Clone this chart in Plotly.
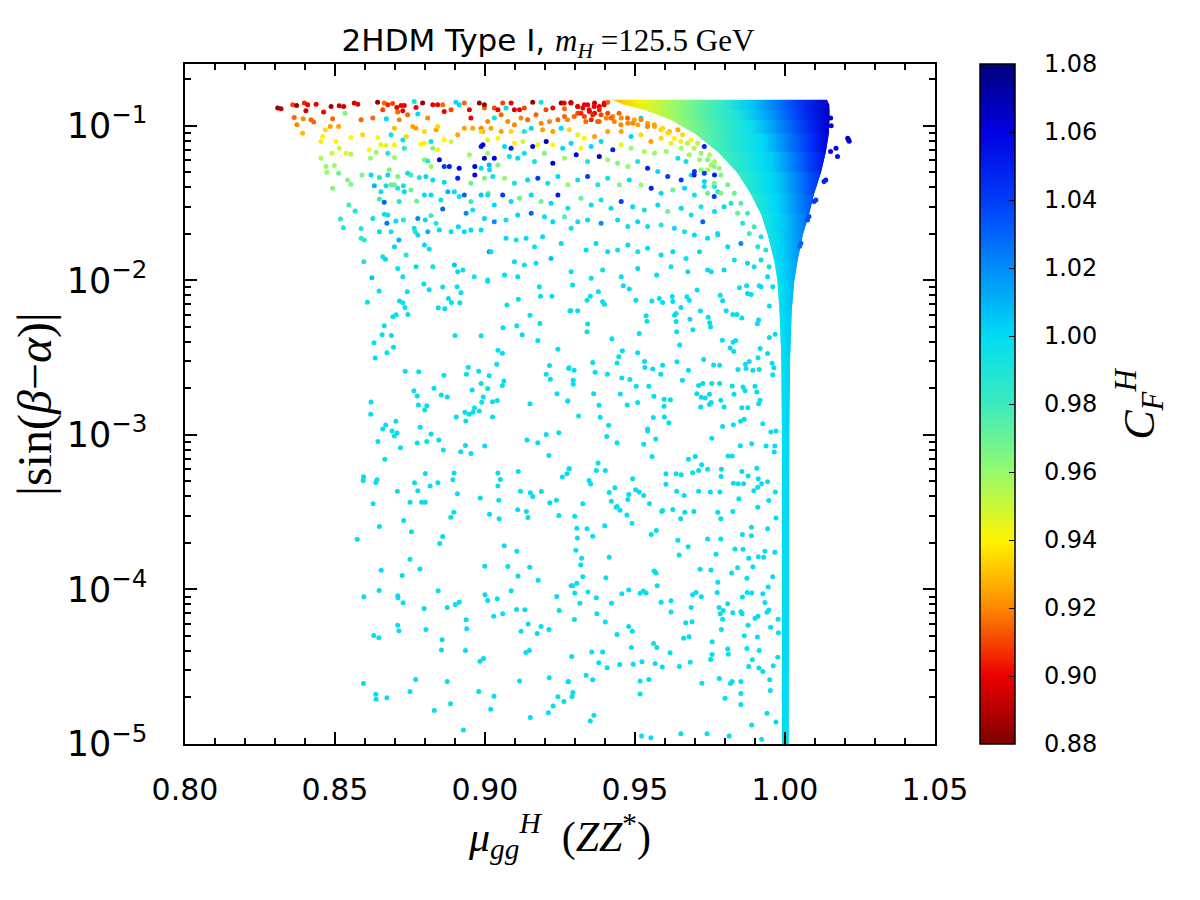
import plotly.graph_objects as go
from plotly.colors import sample_colorscale

# ── colour palette (0.88 .. 1.08) ───────────────────────────────────
CF_MIN, CF_MAX = 0.88, 1.08
cf_ticks = [0.88, 0.90, 0.92, 0.94, 0.96, 0.98, 1.00, 1.02, 1.04, 1.06, 1.08]
cf_colors = [
    'rgb(128,0,0)', 'rgb(235,0,0)', 'rgb(255,135,0)', 'rgb(255,245,0)',
    'rgb(150,250,110)', 'rgb(60,235,190)', 'rgb(0,220,245)', 'rgb(0,140,250)',
    'rgb(0,60,250)', 'rgb(0,0,225)', 'rgb(0,0,125)',
]
JET = [[(v - CF_MIN) / (CF_MAX - CF_MIN), c] for v, c in zip(cf_ticks, cf_colors)]

# ── scattered points: (mu_gg^H, log10|sin(b-a)|, C_F^H) ─────────────
upper_left = [
    (0.8309, -0.885, 0.885), (0.8320, -0.890, 0.89), (0.8359, -0.864, 0.91), (0.8372, -0.868, 0.885),
    (0.8398, -0.853, 0.905), (0.8409, -0.864, 0.90), (0.8403, -0.903, 0.895), (0.8437, -0.860, 0.90),
    (0.8364, -0.946, 0.915), (0.8373, -0.993, 0.92), (0.8394, -0.955, 0.92), (0.8420, -0.961, 0.915),
    (0.8429, -0.976, 0.915), (0.8392, -1.048, 0.93), (0.8462, -0.911, 0.90), (0.8487, -0.875, 0.885),
    (0.8492, -0.955, 0.915), (0.8484, -1.004, 0.925), (0.8468, -1.026, 0.935), (0.8459, -1.069, 0.94),
    (0.8453, -1.102, 0.945), (0.8512, -1.004, 0.925), (0.8514, -0.870, 0.895), (0.8529, -0.875, 0.895),
    (0.8533, -0.918, 0.965), (0.8503, -1.102, 0.94), (0.8514, -1.145, 0.95), (0.8490, -1.177, 0.95),
    (0.8453, -1.210, 0.955), (0.8470, -1.264, 0.96), (0.8473, -1.300, 0.96), (0.8498, -1.257, 0.96),
    (0.8512, -1.307, 0.97), (0.8492, -1.404, 0.965), (0.8537, -1.177, 0.945), (0.8553, -1.184, 0.955),
    (0.8553, -1.076, 0.94), (0.8564, -0.853, 0.895), (0.8576, -0.860, 0.90), (0.8587, -0.961, 0.915),
    (0.8592, -1.058, 0.935), (0.8590, -1.318, 0.965), (0.8542, -1.350, 0.965), (0.8553, -1.378, 0.965),
    (0.8546, -1.512, 0.98), (0.8567, -1.551, 0.99), (0.8518, -1.603, 0.985), (0.8528, -1.659, 0.99),
    (0.8587, -1.664, 0.99), (0.8587, -1.728, 0.985), (0.8598, -1.739, 0.985), (0.8596, -1.880, 0.99),
    (0.8623, -1.983, 1.005), (0.8614, -1.155, 0.94), (0.8618, -1.210, 0.96), (0.8620, -1.318, 1.00),
    (0.8626, -0.950, 0.915), (0.8642, -0.847, 0.885), (0.8659, -0.896, 0.91), (0.8664, -0.853, 0.915),
    (0.8676, -0.864, 0.905), (0.8671, -0.955, 1.00), (0.8692, -0.855, 0.91), (0.8706, -0.881, 0.90),
    (0.8720, -0.868, 0.90), (0.8731, -0.868, 0.90), (0.8709, -0.911, 0.915), (0.8726, -0.903, 0.90),
    (0.8714, -0.961, 0.92), (0.8742, -0.929, 0.915), (0.8764, -0.842, 0.995), (0.8770, -0.881, 0.90),
    (0.8792, -0.853, 0.885), (0.8776, -0.924, 1.00), (0.8809, -0.950, 0.92), (0.8826, -0.864, 0.90),
    (0.8842, -0.864, 0.90), (0.8859, -0.864, 0.915), (0.8864, -0.907, 0.90), (0.8887, -0.896, 0.91),
    (0.8903, -0.847, 1.00), (0.8914, -0.864, 1.00), (0.8931, -0.853, 0.915), (0.8948, -0.896, 0.90),
    (0.8953, -0.950, 0.90), (0.8981, -0.853, 0.885), (0.8998, -0.885, 0.915), (0.8698, -1.015, 0.93),
    (0.8687, -1.058, 0.995), (0.8642, -1.076, 0.94), (0.8653, -1.123, 0.945), (0.8670, -1.127, 0.945),
    (0.8698, -1.123, 0.94), (0.8737, -1.069, 0.935), (0.8726, -1.091, 0.995), (0.8731, -1.145, 0.985),
    (0.8676, -1.177, 0.99), (0.8637, -1.171, 0.96), (0.8698, -1.205, 0.96), (0.8759, -1.004, 0.925),
    (0.8770, -1.015, 0.925), (0.8798, -1.037, 0.935), (0.8787, -1.119, 0.94), (0.8798, -1.112, 0.94),
    (0.8820, -1.102, 0.995), (0.8837, -1.026, 0.925), (0.8842, -1.004, 0.935), (0.8826, -1.145, 0.965),
    (0.8842, -1.155, 0.94), (0.8864, -1.091, 0.94), (0.8887, -1.102, 0.95), (0.8909, -1.058, 0.925),
    (0.8931, -1.015, 0.925), (0.8959, -1.015, 0.925), (0.8987, -1.015, 0.92), (0.8992, -1.037, 0.925),
    (0.8987, -1.134, 1.05), (0.8948, -1.188, 0.96), (0.8798, -1.220, 0.965), (0.8809, -1.227, 0.99),
    (0.8848, -1.220, 1.06), (0.8864, -1.264, 1.04), (0.8881, -1.264, 1.05), (0.8914, -1.274, 1.06),
    (0.8966, -1.264, 1.06), (0.8998, -1.210, 1.07), (0.8987, -1.274, 1.00), (0.9014, -1.253, 1.01),
    (0.8820, -1.264, 0.96), (0.8909, -1.339, 1.05), (0.8966, -1.318, 1.06), (0.8953, -1.372, 0.97),
    (0.8987, -1.447, 1.005), (0.9011, -1.436, 0.97), (0.8803, -1.328, 1.00), (0.8826, -1.350, 1.00),
    (0.8864, -1.365, 1.00), (0.8876, -1.426, 1.01), (0.8898, -1.426, 1.00), (0.8931, -1.447, 1.03),
    (0.8914, -1.458, 0.995), (0.8853, -1.480, 0.995), (0.8859, -1.538, 1.03), (0.8820, -1.447, 1.00),
    (0.8798, -1.447, 1.00), (0.8772, -1.486, 0.97), (0.8781, -1.335, 0.99), (0.8753, -1.318, 0.98),
    (0.8742, -1.307, 0.995), (0.8709, -1.328, 0.965), (0.8681, -1.285, 0.965), (0.8676, -1.318, 1.00),
    (0.8648, -1.335, 0.99), (0.8698, -1.382, 0.97), (0.8687, -1.382, 0.97), (0.8709, -1.404, 0.99),
    (0.8728, -1.387, 0.995), (0.8670, -1.387, 0.995), (0.8631, -1.387, 1.01), (0.8653, -1.426, 0.995),
    (0.8731, -1.426, 1.00), (0.8753, -1.415, 0.97), (0.8714, -1.490, 0.99), (0.8664, -1.495, 1.03),
    (0.8648, -1.473, 0.98), (0.8676, -1.577, 0.995), (0.8664, -1.573, 0.995), (0.8673, -1.631, 1.025),
    (0.8703, -1.616, 1.00), (0.8728, -1.609, 0.99), (0.8626, -1.599, 0.995), (0.8648, -1.685, 1.00),
    (0.8687, -1.685, 0.995), (0.8713, -1.739, 1.01), (0.8776, -1.599, 1.02), (0.8801, -1.609, 1.00),
    (0.8820, -1.581, 0.98), (0.8837, -1.631, 0.99), (0.8764, -1.663, 0.995), (0.8767, -1.685, 0.99),
    (0.8776, -1.707, 1.00), (0.8809, -1.685, 1.01), (0.8848, -1.674, 1.00), (0.8887, -1.685, 1.00),
    (0.8911, -1.653, 1.00), (0.8931, -1.685, 1.00), (0.8953, -1.674, 1.00), (0.8987, -1.674, 1.00),
    (0.8937, -1.566, 1.02), (0.8959, -1.544, 0.995), (0.8953, -1.490, 0.98), (0.8798, -1.771, 1.00),
    (0.8814, -1.797, 0.995), (0.8737, -1.836, 0.99), (0.8698, -1.782, 1.00), (0.8659, -1.847, 0.995),
    (0.8668, -1.864, 1.00), (0.8709, -1.923, 0.995), (0.8726, -1.977, 0.995), (0.8770, -1.912, 1.00),
    (0.8826, -1.912, 0.995), (0.8898, -1.901, 1.005), (0.8909, -1.944, 1.00), (0.8926, -1.933, 0.995),
    (0.8964, -1.977, 0.995), (0.9009, -1.998, 1.00), (0.9014, -1.815, 1.02),
]

upper_mid = [
    (0.8998, -0.864, 0.885), (0.9031, -0.885, 0.91), (0.9043, -0.896, 0.90), (0.9059, -0.853, 0.91),
    (0.9070, -0.885, 1.00), (0.9087, -0.853, 0.90), (0.9098, -0.896, 0.895), (0.9115, -0.896, 0.90),
    (0.9131, -0.885, 0.91), (0.9159, -0.847, 0.885), (0.9187, -0.847, 0.995), (0.9203, -0.896, 0.91),
    (0.9226, -0.885, 0.90), (0.9254, -0.853, 0.885), (0.9265, -0.890, 0.915), (0.9287, -0.853, 0.895),
    (0.9309, -0.875, 0.905), (0.9326, -0.885, 0.90), (0.9342, -0.864, 0.90), (0.9365, -0.853, 0.895),
    (0.9381, -0.875, 0.90), (0.9398, -0.853, 0.90), (0.9409, -0.847, 0.915), (0.9348, -0.907, 0.90),
    (0.9365, -0.918, 0.90), (0.9387, -0.929, 0.91), (0.9331, -0.939, 0.91), (0.9309, -0.918, 0.91),
    (0.9354, -0.961, 0.905), (0.9381, -0.972, 0.915), (0.9404, -0.950, 0.92), (0.9426, -0.939, 0.92),
    (0.9431, -0.972, 0.92), (0.9454, -0.950, 0.92), (0.9476, -0.983, 0.92), (0.9498, -0.961, 0.925),
    (0.9520, -0.950, 1.00), (0.9509, -0.993, 0.925), (0.9542, -0.983, 0.925), (0.9565, -1.004, 0.925),
    (0.9593, -1.015, 0.935), (0.9615, -1.037, 0.93), (0.9643, -1.026, 0.925), (0.9659, -1.058, 0.935),
    (0.9687, -1.091, 0.94), (0.9709, -1.112, 0.955), (0.9731, -1.134, 1.05), (0.9748, -1.188, 0.955),
    (0.9765, -1.231, 0.955), (0.9781, -1.274, 0.96), (0.9265, -0.939, 0.915), (0.9243, -0.961, 0.915),
    (0.9215, -0.972, 0.92), (0.9187, -0.983, 0.92), (0.9170, -0.929, 0.915), (0.9142, -0.961, 0.915),
    (0.9120, -0.950, 0.92), (0.9098, -0.993, 0.92), (0.9076, -0.972, 0.92), (0.9054, -0.929, 0.915),
    (0.9031, -0.950, 0.995), (0.9009, -0.972, 0.92), (0.8987, -1.037, 0.935), (0.9020, -1.015, 0.925),
    (0.9054, -1.037, 0.925), (0.9087, -1.037, 0.935), (0.9131, -1.037, 0.99), (0.9154, -1.015, 1.00),
    (0.9192, -1.026, 0.925), (0.9226, -1.037, 0.925), (0.9254, -1.015, 1.00), (0.9281, -1.026, 0.935),
    (0.9309, -1.058, 0.945), (0.9331, -1.080, 0.94), (0.9365, -1.069, 0.925), (0.9409, -1.037, 0.925),
    (0.9454, -1.037, 0.925), (0.9487, -1.069, 1.00), (0.9520, -1.058, 0.935), (0.9553, -1.102, 0.925),
    (0.9587, -1.080, 0.935), (0.9620, -1.112, 0.945), (0.9654, -1.145, 0.955), (0.9681, -1.188, 0.96),
    (0.9715, -1.220, 0.96), (0.9742, -1.285, 0.955), (0.9765, -1.318, 1.05), (0.8993, -1.123, 1.06),
    (0.9009, -1.091, 0.945), (0.9043, -1.080, 0.94), (0.9065, -1.134, 1.00), (0.9087, -1.145, 1.05),
    (0.9098, -1.112, 0.94), (0.9126, -1.102, 0.95), (0.9159, -1.134, 1.06), (0.9176, -1.123, 0.945),
    (0.9204, -1.102, 1.07), (0.9226, -1.123, 0.94), (0.9259, -1.145, 1.00), (0.9287, -1.112, 1.00),
    (0.9320, -1.145, 0.94), (0.9354, -1.134, 1.00), (0.9387, -1.102, 1.00), (0.9426, -1.155, 1.05),
    (0.9454, -1.123, 0.945), (0.9487, -1.145, 0.96), (0.9531, -1.166, 0.955), (0.9565, -1.177, 0.96),
    (0.9604, -1.166, 0.96), (0.9643, -1.210, 0.995), (0.9670, -1.231, 0.995), (0.9698, -1.296, 1.04),
    (0.9720, -1.285, 0.96), (0.9754, -1.253, 0.96), (0.9009, -1.177, 0.96), (0.9031, -1.210, 1.06),
    (0.9043, -1.253, 0.965), (0.9081, -1.199, 0.995), (0.9109, -1.210, 1.00), (0.9131, -1.177, 0.995),
    (0.9165, -1.231, 0.995), (0.9198, -1.177, 0.965), (0.9226, -1.242, 1.06), (0.9265, -1.210, 0.96),
    (0.9304, -1.188, 1.06), (0.9342, -1.231, 0.99), (0.9381, -1.199, 1.07), (0.9409, -1.220, 0.96),
    (0.9442, -1.242, 0.965), (0.9476, -1.264, 0.96), (0.9509, -1.231, 0.99), (0.9542, -1.274, 1.05),
    (0.9576, -1.296, 1.00), (0.9609, -1.328, 1.04), (0.9654, -1.350, 1.04), (0.9687, -1.318, 0.99),
    (0.9731, -1.361, 1.00), (0.9765, -1.393, 0.99), (0.9015, -1.285, 1.00), (0.8998, -1.339, 0.965),
    (0.9026, -1.328, 0.995), (0.9065, -1.339, 0.96), (0.9098, -1.372, 0.995), (0.9142, -1.350, 1.00),
    (0.9176, -1.339, 1.04), (0.9209, -1.372, 0.995), (0.9243, -1.328, 1.00), (0.9276, -1.382, 0.96),
    (0.9309, -1.350, 0.995), (0.9342, -1.328, 1.04), (0.9376, -1.382, 0.99), (0.9409, -1.339, 0.995),
    (0.9448, -1.382, 0.965), (0.9481, -1.350, 1.00), (0.9520, -1.382, 0.96), (0.9554, -1.404, 1.05),
    (0.9587, -1.436, 1.00), (0.9626, -1.415, 0.97), (0.9665, -1.404, 1.00), (0.9698, -1.447, 0.995),
    (0.9742, -1.436, 0.97), (0.9776, -1.426, 0.99), (0.9009, -1.447, 0.995), (0.9031, -1.512, 1.00),
    (0.9059, -1.447, 1.04), (0.9087, -1.490, 1.00), (0.9115, -1.469, 0.97), (0.9154, -1.447, 1.00),
    (0.9187, -1.490, 0.97), (0.9220, -1.501, 1.00), (0.9243, -1.447, 1.05), (0.9276, -1.534, 0.995),
    (0.9320, -1.469, 0.97), (0.9354, -1.512, 1.00), (0.9387, -1.480, 0.995), (0.9420, -1.534, 1.00),
    (0.9454, -1.490, 1.04), (0.9492, -1.523, 1.00), (0.9531, -1.544, 0.995), (0.9576, -1.512, 1.00),
    (0.9609, -1.555, 0.97), (0.9654, -1.534, 1.00), (0.9687, -1.577, 0.995), (0.9726, -1.620, 1.03),
    (0.9765, -1.555, 1.00), (0.8998, -1.599, 1.00), (0.9031, -1.620, 1.02), (0.9070, -1.609, 0.995),
    (0.9109, -1.577, 1.00), (0.9154, -1.566, 1.03), (0.9198, -1.588, 0.995), (0.9226, -1.620, 1.00),
    (0.9265, -1.588, 0.975), (0.9309, -1.620, 0.995), (0.9342, -1.609, 1.00), (0.9387, -1.631, 1.02),
    (0.9442, -1.609, 1.00), (0.9476, -1.652, 0.995), (0.9509, -1.620, 1.00), (0.9542, -1.652, 0.995),
    (0.9587, -1.642, 0.99), (0.9631, -1.663, 1.00), (0.9665, -1.685, 0.995), (0.9698, -1.707, 1.00),
    (0.9742, -1.728, 1.00), (0.9776, -1.707, 0.995), (0.9020, -1.815, 1.00), (0.9070, -1.728, 1.00),
    (0.9104, -1.739, 0.995), (0.9137, -1.728, 1.00), (0.9165, -1.782, 0.995), (0.9192, -1.717, 1.00),
    (0.9220, -1.858, 1.005), (0.9254, -1.761, 1.00), (0.9287, -1.663, 0.995), (0.9337, -1.804, 1.00),
    (0.9370, -1.761, 1.00), (0.9409, -1.815, 1.00), (0.9442, -1.804, 0.995), (0.9476, -1.771, 1.00),
    (0.9509, -1.815, 0.995), (0.9542, -1.793, 1.00), (0.9587, -1.836, 1.00), (0.9626, -1.815, 1.00),
    (0.9670, -1.858, 0.995), (0.9715, -1.815, 1.00), (0.9754, -1.944, 1.00), (0.9098, -1.880, 1.00),
    (0.9131, -1.901, 0.995), (0.9170, -1.890, 1.00), (0.9109, -1.977, 1.00), (0.9065, -1.966, 1.00),
    (0.9287, -1.944, 1.00), (0.9354, -1.987, 1.00), (0.9392, -1.933, 0.995), (0.9454, -1.977, 1.00),
    (0.9509, -1.923, 1.00), (0.9572, -1.966, 1.00), (0.9620, -1.912, 0.995), (0.9676, -1.944, 1.00),
    (0.9742, -1.933, 1.00),
]

upper_right = [
    (0.9264, -0.853, 0.90), (0.9286, -0.849, 0.895), (0.9309, -0.875, 0.90), (0.9331, -0.864, 0.90),
    (0.9347, -0.896, 0.90), (0.9364, -0.875, 0.90), (0.9381, -0.896, 0.905), (0.9397, -0.864, 0.90),
    (0.9409, -0.918, 0.91), (0.9359, -0.929, 0.905), (0.9320, -0.918, 0.905), (0.9297, -0.939, 0.915),
    (0.9275, -0.961, 0.92), (0.9336, -0.972, 0.915), (0.9375, -0.972, 0.915), (0.9420, -0.950, 0.915),
    (0.9447, -0.918, 0.915), (0.9475, -0.950, 0.915), (0.9453, -0.993, 0.92), (0.9492, -0.983, 0.92),
    (0.9520, -0.961, 0.92), (0.9542, -1.004, 0.92), (0.9564, -0.993, 0.925), (0.9586, -1.026, 0.935),
    (0.9609, -1.047, 0.935), (0.9631, -1.080, 0.94), (0.9653, -1.101, 0.945), (0.9675, -1.112, 0.955),
    (0.9697, -1.145, 0.955), (0.9720, -1.177, 0.96), (0.9742, -1.220, 0.965), (0.9764, -1.264, 0.965),
    (0.9786, -1.318, 0.965), (0.9809, -1.382, 0.97), (0.9831, -1.436, 0.97), (0.9853, -1.501, 0.975),
    (0.9875, -1.566, 0.98), (0.9897, -1.653, 0.98), (0.9920, -1.717, 0.99), (0.9936, -1.804, 0.99),
    (0.9947, -1.912, 0.995), (0.9959, -2.042, 1.00), (0.9697, -1.318, 1.05), (0.9731, -1.307, 1.04),
    (0.9764, -1.372, 0.965), (0.9786, -1.436, 0.965), (0.9820, -1.501, 0.99), (0.9842, -1.566, 0.97),
    (0.9859, -1.631, 0.99), (0.9881, -1.696, 0.98), (0.9909, -1.782, 0.99), (0.9920, -1.869, 0.995),
    (0.9942, -1.977, 1.00), (0.9897, -1.912, 0.995), (0.9853, -1.761, 1.02), (0.9875, -1.890, 1.00),
    (0.9731, -1.393, 0.995), (0.9764, -1.458, 1.04), (0.9797, -1.523, 1.00), (0.9720, -1.523, 0.99),
    (0.9775, -1.696, 0.995), (0.9809, -1.782, 1.00), (0.9831, -1.869, 0.995), (0.9797, -1.933, 1.00),
    (0.9920, -2.042, 1.00), (0.9875, -2.085, 1.00),
]

# dark-blue stragglers on the right of the dense band
outliers = [
    (1.0209, -1.080, 1.06), (1.0214, -1.100, 1.06), (1.0212, -1.090, 1.065), (1.0170, -1.145, 1.06),
    (1.0175, -1.199, 1.055), (1.0152, -1.166, 1.06), (1.0136, -1.350, 1.05), (1.0130, -1.361, 1.05),
    (1.0103, -1.480, 1.04), (1.0097, -1.490, 1.04), (1.0080, -1.587, 1.035), (1.0075, -1.610, 1.035),
    (1.0053, -1.760, 1.03), (1.0049, -1.780, 1.03), (1.0152, -0.950, 1.065), (1.0154, -1.000, 1.065),
]

# sparse cyan points below |sin| = 1e-2 : (mu, log10|sin|), all C_F ~ 1.00
CF_LOW = 0.998
mid_left = [
    (0.8608, -2.141), (0.8647, -2.069), (0.8741, -2.074), (0.8796, -2.024), (0.8814, -2.061),
    (0.8859, -2.043), (0.8907, -2.041), (0.8920, -2.080), (0.8878, -2.117), (0.8888, -2.143),
    (0.8916, -2.145), (0.8844, -2.177), (0.8866, -2.184), (0.8715, -2.134), (0.8726, -2.145),
    (0.8733, -2.175), (0.8743, -2.221), (0.8693, -2.236), (0.8704, -2.223), (0.8664, -2.294),
    (0.8657, -2.352), (0.8688, -2.357), (0.8630, -2.404), (0.8695, -2.432), (0.8673, -2.469),
    (0.8634, -2.502), (0.8900, -2.357), (0.8987, -2.359), (0.9009, -2.005), (0.9073, -2.160),
    (0.9111, -2.123), (0.9106, -2.294), (0.9124, -2.352), (0.9150, -2.225), (0.9183, -2.279),
    (0.9176, -2.389), (0.9181, -2.041), (0.9185, -2.102), (0.9223, -2.102), (0.9283, -2.197),
    (0.9060, -2.307), (0.9043, -2.452), (0.9058, -2.471), (0.9039, -2.543), (0.9243, -2.445),
    (0.8734, -2.588), (0.8779, -2.592), (0.8863, -2.614), (0.8944, -2.562), (0.8938, -2.607),
    (0.8979, -2.588), (0.9014, -2.618), (0.9063, -2.651), (0.9058, -2.681), (0.9009, -2.700),
    (0.8987, -2.668), (0.8957, -2.709), (0.8830, -2.698), (0.8763, -2.715), (0.8774, -2.748),
    (0.8854, -2.741), (0.8874, -2.754), (0.8778, -2.806), (0.8806, -2.811), (0.8799, -2.839),
    (0.8620, -2.787), (0.8619, -2.867), (0.8994, -2.754), (0.8989, -2.789), (0.9025, -2.785),
    (0.9041, -2.778), (0.8965, -2.826), (0.8933, -2.854), (0.8947, -2.867), (0.8960, -2.854),
    (0.8981, -2.845), (0.9025, -2.884), (0.8904, -2.884), (0.8936, -2.910), (0.9204, -2.607),
    (0.9218, -2.640), (0.9215, -2.551), (0.9279, -2.571), (0.9240, -2.733), (0.9150, -2.798),
    (0.9276, -2.780), (0.8703, -2.912), (0.8669, -2.936), (0.8659, -2.962), (0.8690, -2.975),
    (0.8707, -2.988), (0.8698, -3.007), (0.8784, -2.951), (0.8820, -2.994), (0.8846, -3.033),
    (0.8806, -3.042), (0.8774, -3.053), (0.8718, -3.083), (0.8643, -3.042), (0.8666, -3.158),
    (0.8861, -3.098), (0.8919, -3.109), (0.8935, -3.068), (0.8953, -3.120), (0.8999, -3.072),
    (0.9140, -3.033), (0.9176, -3.050), (0.9204, -2.998), (0.9246, -2.986), (0.9213, -3.133),
    (0.8595, -3.271), (0.8594, -3.295), (0.8636, -3.308), (0.8640, -3.290), (0.8708, -3.364),
    (0.8765, -3.310), (0.8776, -3.362), (0.8801, -3.249), (0.8817, -3.331), (0.8843, -3.310),
    (0.8893, -3.290), (0.8897, -3.247), (0.8908, -3.381), (0.8984, -3.409), (0.9043, -3.247),
    (0.9051, -3.288), (0.9043, -3.331), (0.9046, -3.422), (0.9111, -3.236), (0.9118, -3.364),
    (0.9151, -3.375), (0.9159, -3.398), (0.9188, -3.366), (0.9216, -3.439), (0.9238, -3.422),
    (0.9258, -3.273), (0.9273, -3.251), (0.9281, -3.219), (0.8627, -3.446), (0.8750, -3.435),
    (0.8789, -3.435), (0.8801, -3.435),
]

mid_right = [
    (0.9292, -2.030), (0.9351, -2.102), (0.9378, -2.074), (0.9340, -2.128), (0.9392, -2.138),
    (0.9398, -2.154), (0.9286, -2.197), (0.9309, -2.197), (0.9342, -2.283), (0.9340, -2.333),
    (0.9461, -2.035), (0.9481, -2.056), (0.9503, -2.128), (0.9556, -2.134), (0.9581, -2.117),
    (0.9592, -2.143), (0.9624, -2.104), (0.9626, -2.136), (0.9653, -2.175), (0.9637, -2.214),
    (0.9632, -2.225), (0.9537, -2.229), (0.9540, -2.264), (0.9514, -2.344), (0.9423, -2.378),
    (0.9637, -2.266), (0.9639, -2.333), (0.9683, -2.251), (0.9693, -2.320), (0.9649, -2.419),
    (0.9718, -2.199), (0.9744, -2.238), (0.9749, -2.275), (0.9752, -2.301), (0.9673, -2.106),
    (0.9681, -2.128), (0.9707, -2.063), (0.9784, -2.097), (0.9792, -2.132), (0.9804, -2.197),
    (0.9826, -2.221), (0.9840, -2.221), (0.9856, -2.244), (0.9848, -2.048), (0.9872, -2.035),
    (0.9887, -2.091), (0.9914, -2.035), (0.9912, -2.257), (0.9908, -2.281), (0.9948, -2.166),
    (0.9948, -2.370), (0.9917, -2.441), (0.9967, -2.348), (0.9791, -2.387), (0.9827, -2.400),
    (0.9836, -2.389), (0.9817, -2.437), (0.9829, -2.460), (0.9729, -2.512), (0.9762, -2.547),
    (0.9782, -2.549), (0.9843, -2.577), (0.9870, -2.571), (0.9881, -2.525), (0.9868, -2.543),
    (0.9893, -2.581), (0.9914, -2.577), (0.9910, -2.501), (0.9942, -2.473), (0.9957, -2.536),
    (0.9963, -2.566), (0.9959, -2.610), (0.9280, -2.566), (0.9297, -2.581), (0.9294, -2.646),
    (0.9294, -2.672), (0.9276, -2.780), (0.9362, -2.733), (0.9359, -2.532), (0.9367, -2.594),
    (0.9408, -2.607), (0.9440, -2.534), (0.9446, -2.495), (0.9458, -2.456), (0.9509, -2.469),
    (0.9532, -2.525), (0.9533, -2.564), (0.9559, -2.573), (0.9586, -2.607), (0.9592, -2.549),
    (0.9640, -2.527), (0.9678, -2.581), (0.9456, -2.631), (0.9483, -2.642), (0.9504, -2.685),
    (0.9546, -2.685), (0.9658, -2.646), (0.9563, -2.750), (0.9451, -2.735), (0.9474, -2.806),
    (0.9509, -2.791), (0.9597, -2.770), (0.9618, -2.772), (0.9597, -2.815), (0.9380, -2.808),
    (0.9384, -2.886), (0.9312, -2.878), (0.9412, -2.938), (0.9406, -3.011), (0.9440, -3.050),
    (0.9542, -2.962), (0.9542, -2.975), (0.9561, -2.888), (0.9598, -2.884), (0.9613, -2.921),
    (0.9569, -3.027), (0.9529, -3.061), (0.9557, -3.139), (0.9712, -2.681), (0.9726, -2.668),
    (0.9756, -2.668), (0.9782, -2.668), (0.9824, -2.683), (0.9830, -2.737), (0.9860, -2.690),
    (0.9867, -2.715), (0.9900, -2.685), (0.9906, -2.722), (0.9706, -2.733), (0.9721, -2.757),
    (0.9734, -2.761), (0.9748, -2.737), (0.9786, -2.776), (0.9797, -2.819), (0.9719, -2.819),
    (0.9748, -2.804), (0.9754, -2.791), (0.9856, -2.824), (0.9876, -2.824), (0.9912, -2.798),
    (0.9917, -2.776), (0.9792, -2.945), (0.9828, -2.934), (0.9852, -2.912), (0.9864, -2.899),
    (0.9926, -2.927), (0.9953, -2.981), (0.9970, -2.975), (0.9756, -3.022), (0.9851, -3.070),
    (0.9889, -3.057), (0.9937, -3.072), (0.9966, -3.072), (0.9964, -3.111), (0.9810, -3.137),
    (0.9824, -3.137), (0.9678, -3.158), (0.9701, -3.139), (0.9722, -3.193), (0.9692, -3.245),
    (0.9712, -3.230), (0.9742, -3.223), (0.9788, -3.223), (0.9787, -3.269), (0.9828, -3.312),
    (0.9844, -3.316), (0.9862, -3.316), (0.9877, -3.266), (0.9906, -3.215), (0.9911, -3.284),
    (0.9922, -3.316), (0.9942, -3.303), (0.9909, -3.338), (0.9896, -3.362), (0.9856, -3.236),
    (0.9377, -3.182), (0.9371, -3.230), (0.9401, -3.230), (0.9280, -3.219), (0.9347, -3.295),
    (0.9352, -3.318), (0.9414, -3.372), (0.9433, -3.342), (0.9479, -3.385), (0.9492, -3.284),
    (0.9502, -3.355), (0.9514, -3.370), (0.9529, -3.392), (0.9421, -3.429), (0.9440, -3.463),
    (0.9476, -3.418), (0.9326, -3.446), (0.9603, -3.251), (0.9603, -3.320), (0.9637, -3.251),
    (0.9654, -3.258), (0.9639, -3.364), (0.9664, -3.392), (0.9712, -3.364), (0.9751, -3.370),
    (0.9783, -3.370), (0.9846, -3.413), (0.9909, -3.468), (0.9946, -3.424), (0.9968, -3.370),
    (0.9548, -3.446), (0.9592, -3.489),
]

low_left = [
    (0.8574, -3.675), (0.8648, -3.593), (0.8729, -3.554), (0.8755, -3.626), (0.8896, -3.500),
    (0.8886, -3.533), (0.8859, -3.658), (0.8849, -3.703), (0.9015, -3.513), (0.9047, -3.543),
    (0.9109, -3.485), (0.9138, -3.496), (0.9143, -3.535), (0.9246, -3.522), (0.8750, -3.805),
    (0.8654, -3.876), (0.8783, -3.868), (0.8724, -3.909), (0.9064, -3.718), (0.9106, -3.753),
    (0.8999, -3.850), (0.9076, -3.852), (0.9149, -3.857), (0.9110, -3.913), (0.9177, -3.941),
    (0.8596, -4.047), (0.8647, -4.006), (0.8709, -4.040), (0.8710, -4.053), (0.8727, -4.086),
    (0.8797, -4.123), (0.8844, -4.008), (0.8874, -4.116), (0.8901, -4.097), (0.8914, -4.082),
    (0.9000, -4.034), (0.9009, -4.071), (0.9041, -4.060), (0.9087, -4.008), (0.9105, -4.129),
    (0.9133, -4.131), (0.9029, -4.174), (0.9059, -4.157), (0.9239, -4.045), (0.9247, -4.136),
    (0.8937, -4.196), (0.8939, -4.254), (0.8709, -4.231), (0.8713, -4.267), (0.8803, -4.259),
    (0.8629, -4.298), (0.8646, -4.313), (0.8857, -4.326), (0.8855, -4.391), (0.8935, -4.395),
    (0.9120, -4.270), (0.9144, -4.224), (0.9174, -4.285), (0.9187, -4.239), (0.9213, -4.259),
    (0.9136, -4.408), (0.9148, -4.395), (0.8983, -4.464), (0.8995, -4.447), (0.8595, -4.609),
    (0.8769, -4.583), (0.8874, -4.596), (0.8636, -4.678), (0.8637, -4.710), (0.8673, -4.700),
    (0.8750, -4.661), (0.8979, -4.661), (0.9030, -4.691), (0.9115, -4.592), (0.9214, -4.572),
    (0.9277, -4.598), (0.9243, -4.695), (0.9263, -4.725), (0.9227, -4.754), (0.9211, -4.797),
    (0.9151, -4.829), (0.9019, -4.775), (0.8885, -4.739), (0.8831, -4.784), (0.8928, -4.909),
    (0.9287, -3.976),
]

low_right = [
    (0.9299, -3.526), (0.9306, -3.604), (0.9308, -3.667), (0.9340, -3.608), (0.9359, -3.656),
    (0.9399, -3.587), (0.9437, -3.468), (0.9450, -3.487), (0.9473, -3.518), (0.9490, -3.572),
    (0.9303, -3.747), (0.9322, -3.798), (0.9319, -3.842), (0.9326, -3.917), (0.9292, -3.976),
    (0.9306, -3.960), (0.9299, -4.023), (0.9316, -4.090), (0.9343, -4.017), (0.9371, -4.053),
    (0.9298, -4.194), (0.9373, -4.157), (0.9401, -4.211), (0.9414, -3.792), (0.9403, -3.924),
    (0.9422, -4.090), (0.9440, -4.291), (0.9456, -4.028), (0.9479, -4.004), (0.9479, -4.239),
    (0.9491, -4.270), (0.9517, -4.025), (0.9528, -4.010), (0.9537, -4.023), (0.9554, -3.645),
    (0.9571, -3.619), (0.9564, -3.881), (0.9570, -3.894), (0.9574, -3.976), (0.9587, -4.082),
    (0.9589, -3.496), (0.9620, -4.073), (0.9626, -3.483), (0.9652, -3.543), (0.9666, -3.500),
    (0.9696, -3.496), (0.9643, -3.682), (0.9647, -3.777), (0.9677, -3.723), (0.9717, -3.870),
    (0.9742, -3.673), (0.9753, -3.874), (0.9770, -3.773), (0.9776, -3.954), (0.9786, -3.673),
    (0.9786, -3.543), (0.9776, -3.500), (0.9826, -3.496), (0.9822, -3.894), (0.9833, -3.738),
    (0.9842, -3.859), (0.9858, -3.645), (0.9860, -3.740), (0.9879, -3.798), (0.9888, -3.597),
    (0.9888, -3.652), (0.9893, -3.853), (0.9873, -3.928), (0.9889, -4.023), (0.9858, -4.049),
    (0.9874, -4.019), (0.9911, -3.788), (0.9929, -3.792), (0.9933, -3.753), (0.9942, -3.608),
    (0.9959, -3.917), (0.9944, -3.984), (0.9926, -4.028), (0.9933, -4.084), (0.9946, -4.133),
    (0.9966, -3.760), (0.9970, -3.537), (0.9692, -4.034), (0.9703, -4.019), (0.9721, -4.047),
    (0.9687, -4.116), (0.9669, -4.216), (0.9690, -4.209), (0.9662, -4.315), (0.9680, -4.306),
    (0.9684, -4.471), (0.9620, -4.146), (0.9774, -4.019), (0.9780, -4.116), (0.9784, -4.157),
    (0.9794, -4.136), (0.9809, -4.092), (0.9792, -4.192), (0.9788, -4.259), (0.9826, -4.151),
    (0.9853, -4.144), (0.9857, -4.157), (0.9877, -4.231), (0.9900, -4.187), (0.9910, -4.174),
    (0.9940, -4.148), (0.9952, -4.244), (0.9977, -4.192), (0.9978, -4.280), (0.9864, -4.300),
    (0.9908, -4.308), (0.9873, -4.382), (0.9914, -4.395), (0.9891, -4.455), (0.9879, -4.499),
    (0.9913, -4.509), (0.9926, -4.531), (0.9949, -4.585), (0.9951, -4.654), (0.9976, -4.438),
    (0.9961, -4.494), (0.9809, -4.386), (0.9811, -4.419), (0.9757, -4.339), (0.9757, -4.421),
    (0.9752, -4.453), (0.9781, -4.576), (0.9818, -4.609), (0.9824, -4.596), (0.9853, -4.596),
    (0.9853, -4.674), (0.9853, -4.745), (0.9800, -4.704), (0.9723, -4.607), (0.9889, -4.877),
    (0.9940, -4.801), (0.9970, -4.857), (0.9922, -4.970), (0.9814, -4.948), (0.9740, -4.933),
    (0.9653, -4.933), (0.9553, -4.959), (0.9522, -4.948), (0.9617, -4.410), (0.9648, -4.499),
    (0.9591, -4.501), (0.9567, -4.479), (0.9523, -4.468), (0.9494, -4.484), (0.9449, -4.486),
    (0.9407, -4.507), (0.9379, -4.475), (0.9392, -4.404), (0.9356, -4.404), (0.9289, -4.434),
    (0.9278, -4.596), (0.9293, -4.667), (0.9290, -4.693), (0.9337, -4.555), (0.9359, -4.585),
    (0.9351, -4.851), (0.9363, -4.814), (0.9517, -4.676), (0.9546, -4.583), (0.9517, -4.592),
    (0.9488, -4.375), (0.9562, -4.349), (0.9573, -4.375),
]

# ── dense band (the SM-like wedge): edges and colours read at fixed |sin| levels ──
wedge_logsin = [-0.831, -0.86, -0.90, -0.96, -1.05, -1.17, -1.30, -1.44, -1.57,
                -1.70, -1.87, -2.00, -2.20, -2.50, -3.00, -4.00, -5.00]
wedge_left = [0.9425, 0.9460, 0.9535, 0.9620, 0.9700, 0.9777, 0.9840, 0.9886, 0.9920,
              0.9942, 0.9964, 0.9975, 0.9982, 0.9988, 0.9990, 0.9990, 0.9990]
wedge_right = [1.0140, 1.0147, 1.0148, 1.0148, 1.0146, 1.0136, 1.0120, 1.0097, 1.0080,
               1.0060, 1.0042, 1.0031, 1.0022, 1.0017, 1.0014, 1.0013, 1.0012]
# C_F^H at the left edge, at the middle and at the right edge of each row
wedge_cf_left = [0.925, 0.930, 0.940, 0.950, 0.962, 0.972, 0.978, 0.983, 0.986,
                 0.990, 0.993, 0.995, 0.997, 0.998, 0.999, 0.999, 0.999]
wedge_cf_mid = [0.980, 0.983, 0.988, 0.993, 0.998, 1.002, 1.005, 1.006, 1.006,
                1.006, 1.005, 1.004, 1.002, 1.001, 1.000, 1.000, 1.000]
wedge_cf_right = [1.065, 1.065, 1.065, 1.065, 1.062, 1.058, 1.050, 1.040, 1.032,
                  1.025, 1.018, 1.012, 1.006, 1.003, 1.001, 1.000, 1.000]


def cf_color(v):
    return sample_colorscale(JET, [(v - CF_MIN) / (CF_MAX - CF_MIN)])[0]


fig = go.Figure()

# scattered points
for pts in (upper_left, upper_mid, upper_right):
    fig.add_trace(go.Scatter(
        x=[p[0] for p in pts], y=[10 ** p[1] for p in pts], mode='markers',
        marker=dict(size=5, color=[p[2] for p in pts], colorscale=JET,
                    cmin=CF_MIN, cmax=CF_MAX, line=dict(width=0)),
        showlegend=False, hoverinfo='skip',
    ))

for pts in (mid_left, mid_right, low_left, low_right):
    fig.add_trace(go.Scatter(
        x=[p[0] for p in pts], y=[10 ** p[1] for p in pts], mode='markers',
        marker=dict(size=5, color=cf_color(CF_LOW), line=dict(width=0)),
        showlegend=False, hoverinfo='skip',
    ))

# dense band: one gradient-filled slice per pair of rows; each slice runs one
# row into the next so the next slice covers the seam
n_rows = len(wedge_logsin)
for i in range(n_rows - 1):
    j = min(i + 2, n_rows - 1)
    x0, x1 = min(wedge_left[i:j + 1]), max(wedge_right[i:j + 1])
    c0 = (wedge_cf_left[i] + wedge_cf_left[i + 1]) / 2
    cm = (wedge_cf_mid[i] + wedge_cf_mid[i + 1]) / 2
    c1 = (wedge_cf_right[i] + wedge_cf_right[i + 1]) / 2
    cscale = [[k / 8, cf_color(c0 + (cm - c0) * k / 4)] for k in range(5)]
    cscale += [[(4 + k) / 8, cf_color(cm + (c1 - cm) * k / 4)] for k in range(1, 5)]
    px = wedge_left[i:j + 1] + wedge_right[i:j + 1][::-1]
    py = wedge_logsin[i:j + 1] + wedge_logsin[i:j + 1][::-1]
    fig.add_trace(go.Scatter(
        x=px, y=[10 ** v for v in py], mode='lines', fill='toself',
        line=dict(width=0),
        fillgradient=dict(type='horizontal', colorscale=cscale, start=x0, stop=x1),
        showlegend=False, hoverinfo='skip',
    ))

# outliers + colour bar
pad = '\u00a0' * 3
fig.add_trace(go.Scatter(
    x=[p[0] for p in outliers], y=[10 ** p[1] for p in outliers], mode='markers',
    marker=dict(
        size=5, color=[p[2] for p in outliers], colorscale=JET, cmin=CF_MIN, cmax=CF_MAX,
        line=dict(width=0), showscale=True,
        colorbar=dict(
            x=1.06, xanchor='left', xpad=0, y=0.5, yanchor='middle', ypad=0,
            len=1.0, lenmode='fraction',
            thickness=35, outlinewidth=1.5, outlinecolor='black',
            tickvals=cf_ticks, ticktext=[pad + f'{v:.2f}' for v in cf_ticks],
            ticks='inside', ticklen=6, tickcolor='black',
            tickfont=dict(family='DejaVu Sans', size=24, color='black'),
        ),
    ),
    showlegend=False, hoverinfo='skip',
))

fig.update_layout(
    width=1200, height=900,
    margin=dict(l=177, r=273, t=56, b=164),
    plot_bgcolor='white', paper_bgcolor='white',
    font=dict(family='DejaVu Sans', color='black'),
    title=dict(
        text='2HDM Type I, <span style="font-family:Liberation Serif"><i>m</i>'
             '<sub><i>H</i></sub> =125.5 GeV</span>',
        x=0.45, xanchor='center', y=0.964, yanchor='middle',
        font=dict(family='DejaVu Sans', size=31, color='black'),
    ),
    annotations=[dict(
        text='<i>C</i><sub><i>F</i></sub><sup><i>H</i></sup>',
        xref='paper', yref='paper', x=1.273, y=0.5, xanchor='center', yanchor='middle',
        textangle=-90, showarrow=False,
        font=dict(family='Liberation Serif', size=44, color='black'),
    )],
)

fig.update_xaxes(
    range=[0.80, 1.05], tick0=0.80, dtick=0.05, tickformat='.2f',
    showgrid=False, zeroline=False, showline=True, linecolor='black', linewidth=2,
    mirror='allticks', ticks='inside', ticklen=12, tickwidth=2, tickcolor='black',
    minor=dict(ticks='inside', dtick=0.01, ticklen=6, tickwidth=1.5, tickcolor='black', showgrid=False),
    tickfont=dict(family='DejaVu Sans', size=30, color='black'), ticklabelstandoff=18,
    title=dict(text='<i>μ</i><sub><i>gg</i></sub><sup><i>H</i></sup>  (<i>ZZ</i><sup>*</sup>)',
               font=dict(family='Liberation Serif', size=42, color='black'), standoff=2),
)

fig.update_yaxes(
    type='log', range=[-5, -0.6], dtick=1, exponentformat='power',
    showgrid=False, zeroline=False, showline=True, linecolor='black', linewidth=2,
    mirror='allticks', ticks='inside', ticklen=12, tickwidth=2, tickcolor='black',
    minor=dict(ticks='inside', dtick='D1', ticklen=6, tickwidth=1.5, tickcolor='black', showgrid=False),
    tickfont=dict(family='DejaVu Sans', size=28, color='black'), ticklabelstandoff=30,
    title=dict(text='|sin(<i>β</i>−<i>α</i>)|',
               font=dict(family='Liberation Serif', size=48, color='black'), standoff=6),
)

fig.write_html('out.html')
